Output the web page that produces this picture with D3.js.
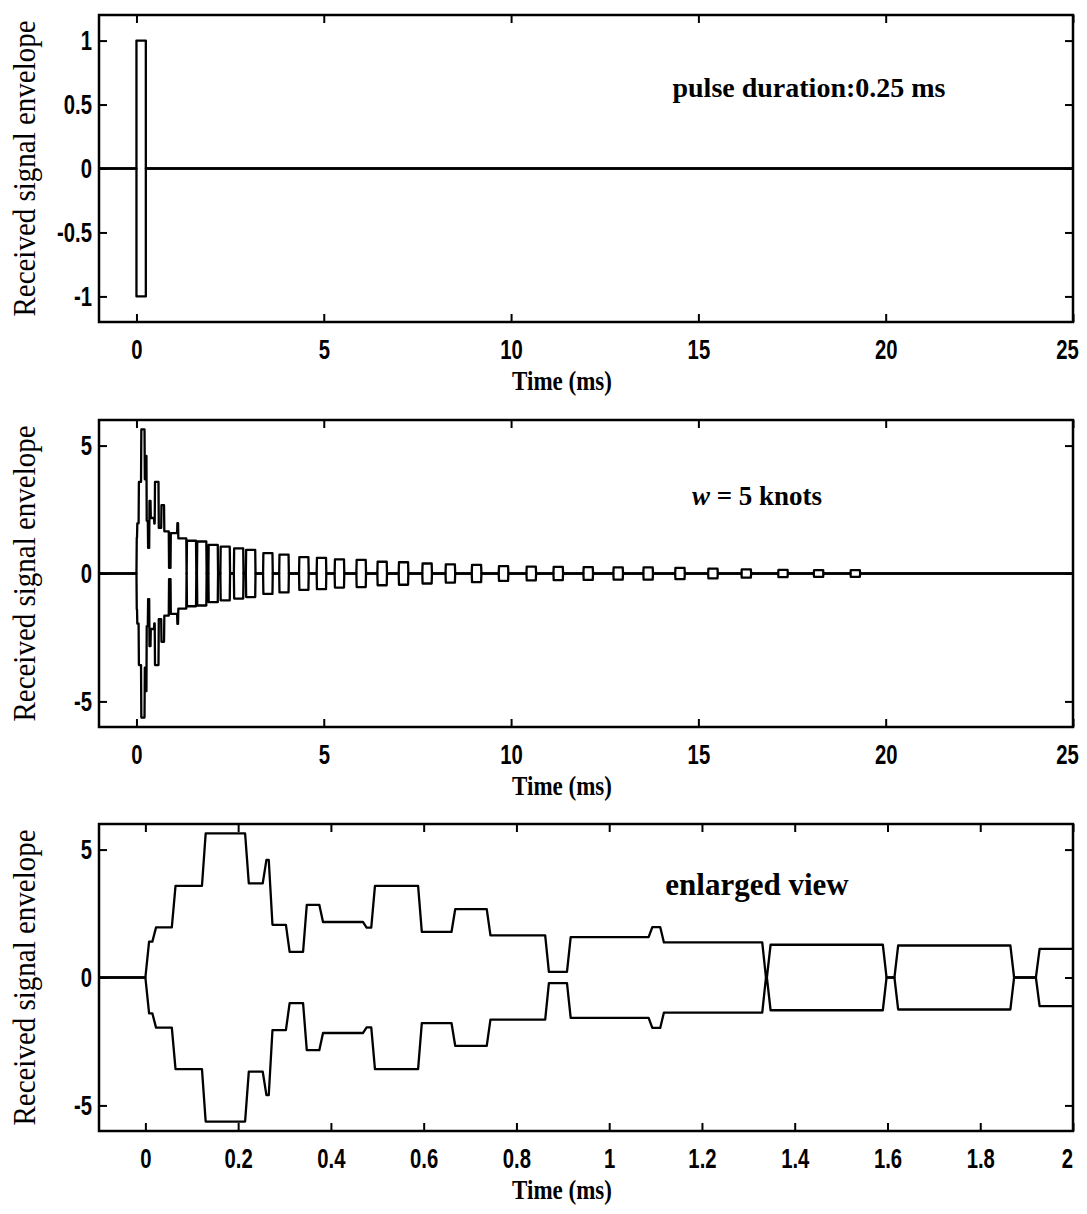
<!DOCTYPE html>
<html>
<head>
<meta charset="utf-8">
<script src="https://cdn.jsdelivr.net/npm/d3@7"></script>
<style>
  body { margin: 0; background: #fff; }
  .tick text { font-family: "Liberation Sans", "DejaVu Sans", sans-serif; font-weight: bold; font-size: 26px; fill: #000; }
  .lbl { font-family: "Liberation Serif", "DejaVu Serif", serif; fill: #000; }
</style>
</head>
<body>
<svg id="fig" width="1087" height="1214"></svg>
<script>
// transmitted pulse (ms, amplitude)
const pulseTimes = [0, 0.25];
const pulseAmps = [1, 0];

// received envelope: early overlapping arrivals (ms, amplitude)
const earlyTimes = [0, 0.015, 0.057, 0.122, 0.215, 0.253, 0.266, 0.303, 0.34, 0.375,
                    0.469, 0.487, 0.588, 0.66, 0.736, 0.862, 0.909, 1.085, 1.11, 1.33];
const earlyAmps  = [1.4, 1.96, 3.58, 5.63, 3.68, 4.6, 2.06, 1.0, 2.84, 2.17,
                    1.95, 3.58, 1.78, 2.67, 1.65, 0.22, 1.58, 1.97, 1.37, 0];

// later, separated arrivals, each one pulse long
const arrivalTimes = [1.34, 1.615, 1.92, 2.24, 2.6, 2.92, 3.38, 3.81, 4.34, 4.81,
                      5.29, 5.87, 6.43, 7.0, 7.63, 8.25, 8.95, 9.67, 10.41, 11.13,
                      11.93, 12.73, 13.53, 14.38, 15.26, 16.15, 17.13, 18.08, 19.06];
const arrivalAmps  = [1.28, 1.25, 1.12, 1.05, 0.98, 0.92, 0.8, 0.74, 0.64, 0.61,
                      0.55, 0.53, 0.46, 0.44, 0.39, 0.36, 0.34, 0.29, 0.27, 0.26,
                      0.25, 0.24, 0.24, 0.22, 0.19, 0.16, 0.14, 0.13, 0.13];
const pulseWidth = 0.25;

const xTicksLong = [0, 5, 10, 15, 20, 25];
const xTicksZoom = [0, 0.2, 0.4, 0.6, 0.8, 1, 1.2, 1.4, 1.6, 1.8, 2];
const yTicksPulse = [-1, -0.5, 0, 0.5, 1];
const yTicksEnv = [-5, 0, 5];

const notes = ["pulse duration:0.25 ms", "= 5 knots", "enlarged view"];

// step envelope with short sloped edges
function steps(times, amps, t0, t1, ramp) {
  const pts = [[t0, 0], [times[0], 0]];
  times.forEach((t, i) => {
    const end = i < times.length - 1 ? times[i + 1] : t1;
    pts.push([t + ramp, amps[i]], [end, amps[i]]);
  });
  return pts;
}

// narrow, tall tick digits like the printed figure
function squeeze(sel, sx, sy) {
  sel.each(function() {
    const t = d3.select(this);
    const x = +t.attr("x") || 0, y = +t.attr("y") || 0;
    t.attr("x", 0).attr("y", 0)
      .attr("transform", "translate(" + x + "," + y + ") scale(" + sx + "," + sy + ")");
  });
}

const recTimes = earlyTimes.slice();
const recAmps = earlyAmps.slice();
arrivalTimes.forEach((t, i) => {
  recTimes.push(t, t + pulseWidth);
  recAmps.push(arrivalAmps[i], 0);
});

const left = 99, right = 1073, h = 307;

const panels = [
  { top: 15, xd: [-1, 25], yd: [-1.2, 1.2], xt: xTicksLong, yt: yTicksPulse,
    data: steps(pulseTimes, pulseAmps, -1, 25, 0) },
  { top: 420, xd: [-1, 25], yd: [-6, 6], xt: xTicksLong, yt: yTicksEnv,
    data: steps(recTimes, recAmps, -1, 25, 0.008) },
  { top: 824, xd: [-0.1, 2], yd: [-6, 6], xt: xTicksZoom, yt: yTicksEnv,
    data: steps(recTimes, recAmps, -1, 25, 0.008) }
];

const svg = d3.select("#fig");

panels.forEach((p, k) => {
  const x = d3.scaleLinear().domain(p.xd).range([left, right]);
  const y = d3.scaleLinear().domain(p.yd).range([p.top + h, p.top]);
  const g = svg.append("g");

  g.append("clipPath").attr("id", "clip" + k)
    .append("rect")
      .attr("x", left).attr("y", p.top)
      .attr("width", right - left).attr("height", h);

  const line = d3.line().x(d => x(d[0])).y(d => y(d[1]));

  const traces = g.append("g")
      .attr("clip-path", "url(#clip" + k + ")")
      .attr("fill", "none")
      .attr("stroke", "#000")
      .attr("stroke-width", 2.3)
      .attr("stroke-linejoin", "round");
  traces.append("path").datum(p.data).attr("d", line);
  traces.append("path").datum(p.data.map(d => [d[0], -d[1]])).attr("d", line);

  // MATLAB style inward ticks on all four sides
  const bottom = g.append("g")
      .attr("transform", "translate(0," + (p.top + h) + ")")
      .call(d3.axisBottom(x).tickValues(p.xt).tickSize(-8).tickPadding(18).tickFormat(d => String(d)));
  bottom.selectAll(".tick text").filter(d => d === p.xt[p.xt.length - 1]).attr("x", -6);
  squeeze(bottom.selectAll(".tick text"), 0.78, 1.05);

  g.append("g")
      .attr("transform", "translate(0," + p.top + ")")
      .call(d3.axisTop(x).tickValues(p.xt).tickSize(-8).tickFormat(""));

  const leftAx = g.append("g")
      .attr("transform", "translate(" + left + ",0)")
      .call(d3.axisLeft(y).tickValues(p.yt).tickSize(-8).tickPadding(7).tickFormat(d => String(d)));
  squeeze(leftAx.selectAll(".tick text"), 0.78, 1.05);

  g.append("g")
      .attr("transform", "translate(" + right + ",0)")
      .call(d3.axisRight(y).tickValues(p.yt).tickSize(-8).tickFormat(""));

  g.selectAll(".domain").remove();
  g.selectAll(".tick line").attr("stroke", "#000").attr("stroke-width", 2);

  g.append("rect")
      .attr("x", left).attr("y", p.top)
      .attr("width", right - left).attr("height", h)
      .attr("fill", "none").attr("stroke", "#000").attr("stroke-width", 2.5);

  g.append("text")
      .attr("class", "lbl")
      .attr("transform", "translate(562," + (p.top + h + 68) + ") scale(0.92,1.12)")
      .attr("text-anchor", "middle")
      .attr("font-size", 25).attr("font-weight", "bold")
      .text("Time (ms)");

  g.append("text")
      .attr("class", "lbl")
      .attr("transform", "translate(35," + (p.top + h / 2) + ") rotate(-90) scale(1,1.12)")
      .attr("text-anchor", "middle")
      .attr("font-size", 29)
      .text("Received signal envelope");
});

// annotations
svg.append("text").attr("class", "lbl")
    .attr("x", 809).attr("y", 97)
    .attr("text-anchor", "middle")
    .attr("font-size", 28).attr("font-weight", "bold")
    .text(notes[0]);

const wnote = svg.append("text").attr("class", "lbl")
    .attr("x", 757).attr("y", 505)
    .attr("text-anchor", "middle")
    .attr("font-size", 27).attr("font-weight", "bold");
wnote.append("tspan").attr("font-style", "italic").text("w ");
wnote.append("tspan").text(notes[1]);

svg.append("text").attr("class", "lbl")
    .attr("x", 757).attr("y", 895)
    .attr("text-anchor", "middle")
    .attr("font-size", 31).attr("font-weight", "bold")
    .text(notes[2]);
</script>
</body>
</html>
